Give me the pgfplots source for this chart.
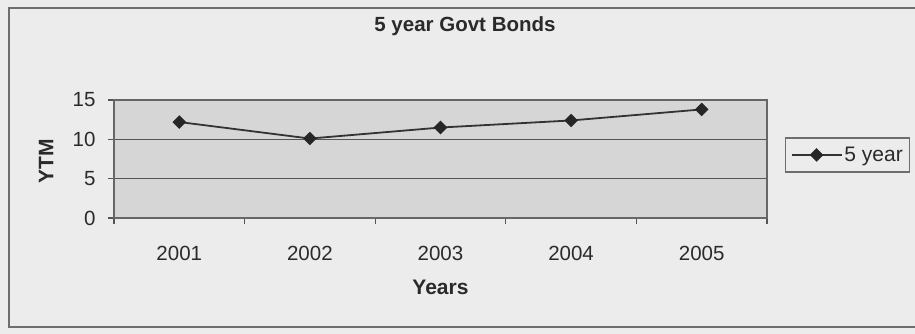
\documentclass[border=0pt]{standalone}
\usepackage{fontspec}
\setmainfont{Liberation Sans}
\usepackage{pgfplots}
\pgfplotsset{compat=1.18}
\definecolor{bg}{HTML}{ECECEC}
\definecolor{plotbg}{HTML}{D6D6D6}
\definecolor{gridc}{HTML}{555555}
\definecolor{txt}{HTML}{2A2A2A}
\definecolor{linec}{HTML}{333333}
\begin{document}
\begin{tikzpicture}
\useasboundingbox (0bp,0bp) rectangle (915bp,334bp);
\fill[bg] (0bp,0bp) rectangle (915bp,334bp);
\draw[gridc!85, line width=1.2bp] (9bp,7bp) rectangle (930bp,326bp);
\begin{axis}[
  at={(114bp,116bp)}, anchor=south west,
  scale only axis, width=653bp, height=118bp,
  xmin=0.5, xmax=5.5, ymin=0, ymax=15,
  axis background/.style={fill=plotbg},
  axis line style={gridc!90, line width=1.2bp},
  ymajorgrids, grid style={gridc, line width=1.5bp},
  ytick={0,5,10,15},
  xtick={0.5,1.5,2.5,3.5,4.5,5.5}, xticklabels={},
  extra x ticks={1,2,3,4,5},
  extra x tick labels={2001,2002,2003,2004,2005},
  extra x tick style={tick style={draw=none}},
  tick align=outside, xtick pos=bottom, ytick pos=left,
  major tick length=6bp,
  tick style={gridc, line width=1.2bp},
  /pgf/number format/assume math mode=true,
  ticklabel style={font=\fontsize{20.5bp}{24bp}\selectfont, text=txt},
  xticklabel style={anchor=center, yshift=-29bp},
  yticklabel style={anchor=east, xshift=-9bp},
  title={5 year Govt Bonds},
  title style={at={(axis description cs:0.5375,1.576)}, anchor=center,
    font=\bfseries\fontsize{20.5bp}{24bp}\selectfont, text=txt},
  xlabel={Years},
  xlabel style={at={(axis description cs:0.5,0)}, anchor=center, yshift=-69bp,
    font=\bfseries\fontsize{21bp}{25bp}\selectfont, text=txt},
  ylabel={YTM},
  ylabel style={at={(axis description cs:-0.104,0.483)}, anchor=center,
    font=\bfseries\fontsize{21bp}{25bp}\selectfont, text=txt},
  legend style={at={(axis description cs:1.0276,0.534)}, anchor=west,
    draw=gridc!85, line width=1.2bp, fill=bg, inner xsep=5bp, inner ysep=7bp,
    font=\fontsize{21bp}{25bp}\selectfont, text=txt},
  legend cell align=left,
  legend image code/.code={\draw[mark repeat=2,mark phase=2,#1] plot coordinates {(0bp,0bp) (25bp,0bp) (50bp,0bp)};},
  clip=false,
]
\addplot[linec, line width=1.8bp, mark=square*, mark size=3.9bp,
  mark options={rotate=45, fill=black!85, draw=black!85}]
  coordinates {(1,12.2) (2,10.1) (3,11.5) (4,12.4) (5,13.8)};
\addlegendentry{5 year}
\end{axis}
\end{tikzpicture}
\end{document}
